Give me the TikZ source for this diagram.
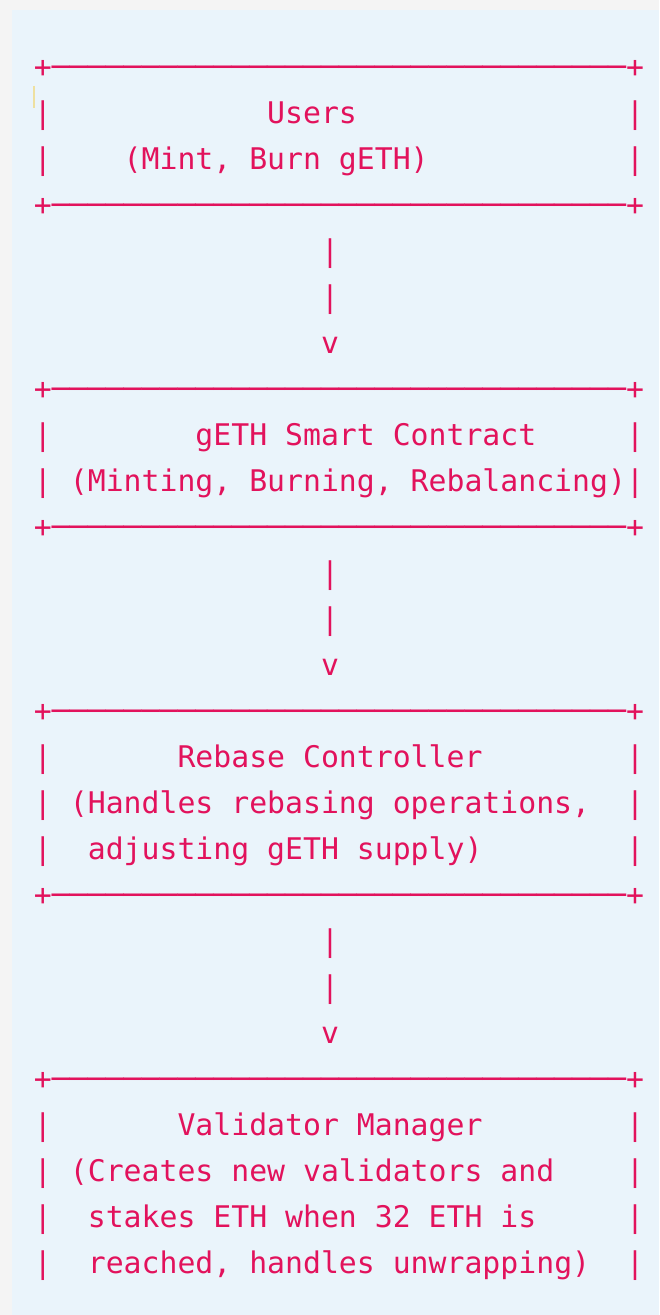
\documentclass[tikz,border=0pt]{standalone}
\usepackage{fontspec}
\newfontfamily\asciimono{DejaVu Sans Mono}
\definecolor{ink}{RGB}{226,18,92}
\definecolor{panel}{RGB}{234,244,251}
\definecolor{outerbg}{RGB}{244,244,244}
\definecolor{caret}{RGB}{238,224,160}
\tikzset{
  ascii/.style={anchor=base west, inner sep=0pt, outer sep=0pt, text=ink,
    font=\asciimono\fontsize{29.8}{34}\selectfont},
  caretline/.style={draw=caret, line width=1.6pt}
}
\newcommand{\asciirow}[4]{\node[ascii] (#1) at ({34+17.94*#2},{1237-46*#3}) {#4};}
\newcommand{\asciirule}{+────────────────────────────────+}
\begin{document}
\begin{tikzpicture}[x=1pt,y=1pt]
\useasboundingbox (0,0) rectangle (659,1315);
\fill[outerbg] (0,0) rectangle (659,1315);
\fill[panel] (12,0) rectangle (659,1305);
\coordinate (caretTop) at (34,1229);
\coordinate (caretBot) at (34,1207);
\draw[caretline] (caretTop) -- (caretBot);
% Box 1
\asciirow{b1top}{0}{0}{\asciirule}
\asciirow{b1l1}{0}{1}{|}
\asciirow{b1t1}{13}{1}{Users}
\asciirow{b1r1}{33}{1}{|}
\asciirow{b1l2}{0}{2}{|}
\asciirow{b1t2}{5}{2}{(Mint, Burn gETH)}
\asciirow{b1r2}{33}{2}{|}
\asciirow{b1bot}{0}{3}{\asciirule}
% Arrow 1
\asciirow{a1s1}{16}{4}{|}
\asciirow{a1s2}{16}{5}{|}
\asciirow{a1h}{16}{6}{v}
% Box 2
\asciirow{b2top}{0}{7}{\asciirule}
\asciirow{b2l1}{0}{8}{|}
\asciirow{b2t1}{9}{8}{gETH Smart Contract}
\asciirow{b2r1}{33}{8}{|}
\asciirow{b2l2}{0}{9}{|}
\asciirow{b2t2}{2}{9}{(Minting, Burning, Rebalancing)}
\asciirow{b2r2}{33}{9}{|}
\asciirow{b2bot}{0}{10}{\asciirule}
% Arrow 2
\asciirow{a2s1}{16}{11}{|}
\asciirow{a2s2}{16}{12}{|}
\asciirow{a2h}{16}{13}{v}
% Box 3
\asciirow{b3top}{0}{14}{\asciirule}
\asciirow{b3l1}{0}{15}{|}
\asciirow{b3t1}{8}{15}{Rebase Controller}
\asciirow{b3r1}{33}{15}{|}
\asciirow{b3l2}{0}{16}{|}
\asciirow{b3t2}{2}{16}{(Handles rebasing operations,}
\asciirow{b3r2}{33}{16}{|}
\asciirow{b3l3}{0}{17}{|}
\asciirow{b3t3}{3}{17}{adjusting gETH supply)}
\asciirow{b3r3}{33}{17}{|}
\asciirow{b3bot}{0}{18}{\asciirule}
% Arrow 3
\asciirow{a3s1}{16}{19}{|}
\asciirow{a3s2}{16}{20}{|}
\asciirow{a3h}{16}{21}{v}
% Box 4
\asciirow{b4top}{0}{22}{\asciirule}
\asciirow{b4l1}{0}{23}{|}
\asciirow{b4t1}{8}{23}{Validator Manager}
\asciirow{b4r1}{33}{23}{|}
\asciirow{b4l2}{0}{24}{|}
\asciirow{b4t2}{2}{24}{(Creates new validators and}
\asciirow{b4r2}{33}{24}{|}
\asciirow{b4l3}{0}{25}{|}
\asciirow{b4t3}{3}{25}{stakes ETH when 32 ETH is}
\asciirow{b4r3}{33}{25}{|}
\asciirow{b4l4}{0}{26}{|}
\asciirow{b4t4}{3}{26}{reached, handles unwrapping)}
\asciirow{b4r4}{33}{26}{|}
\end{tikzpicture}
\end{document}
